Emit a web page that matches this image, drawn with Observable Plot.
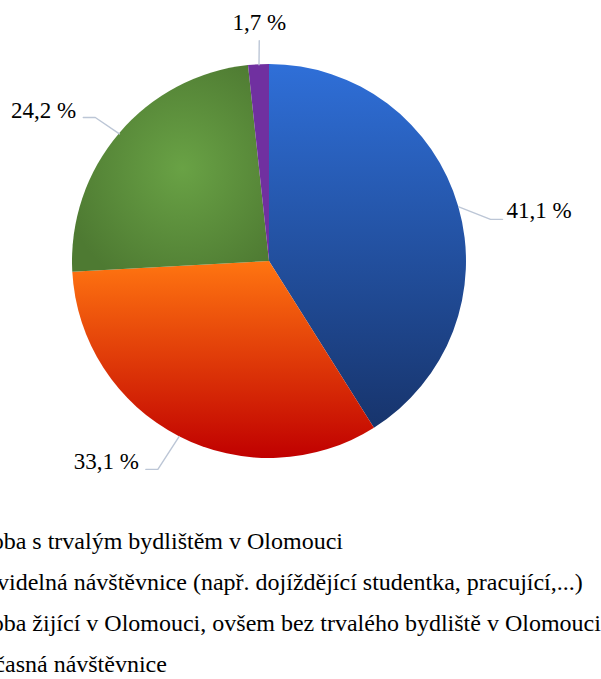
<!DOCTYPE html>
<html>
<head>
<meta charset="utf-8">
<script src="https://cdn.jsdelivr.net/npm/d3@7"></script>
<script src="https://cdn.jsdelivr.net/npm/@observablehq/plot@0.6"></script>
</head>
<body style="margin:0;overflow:hidden;background:#fff">
<div style="font-family:'Liberation Serif';font-size:23px;position:absolute;left:0;top:0;visibility:hidden">41,1 % Osoba</div>
<div id="chart" style="width:601px;height:679px;overflow:hidden;position:relative"></div>
<script>
// ---- data ----
const categories = [
  "Osoba s trvalým bydlištěm v Olomouci",
  "Pravidelná návštěvnice (např. dojíždějící studentka, pracující,...)",
  "Osoba žijící v Olomouci, ovšem bez trvalého bydliště v Olomouci",
  "Občasná návštěvnice"
];
const values = [41.1, 33.1, 24.2, 1.7];
const valueLabels = ["41,1 %", "33,1 %", "24,2 %", "1,7 %"];

// ---- layout / style (not data) ----
const W = 601, H = 521;
const cx = 269, cy = 261, R = 197;
const FONT = "Liberation Serif";
const labelLayout = [
  {da: 5.3, r: 225, side: "right"},
  {da: 0.9, r: 236, side: "left"},
  {da: -0.8, r: 226, side: "left"},
  {da: 0.4, r: 221, side: "top"}
];
const gradients = [
  {type: "linear", stops: [["0%", "#2F6FD8"], ["100%", "#17346C"]]},
  {type: "linear", stops: [["0%", "#FF7511"], ["100%", "#C00000"]]},
  {type: "radial", stops: [["0%", "#69A245"], ["100%", "#4E7A32"]]},
  {type: "linear", stops: [["0%", "#7030A0"], ["100%", "#7030A0"]]}
];

const arcs = d3.pie().sort(null).value(d => d)(values);
const deg = Math.PI / 180;
const polar = (a, r) => [cx + r * Math.sin(a), cy - r * Math.cos(a)];

const leaderPts = [];
const labelRows = [];
arcs.forEach((a, i) => {
  const mid = (a.startAngle + a.endAngle) / 2;
  const L = labelLayout[i];
  const edge = polar(mid, R);
  const elbow = polar(mid + L.da * deg, L.r);
  const pts = [edge, elbow];
  let tx, ty, anchor;
  if (L.side === "right") {
    const end = [elbow[0] + 12, elbow[1]];
    pts.push(end);
    tx = end[0] + 4; ty = elbow[1] - 1; anchor = "start";
  } else if (L.side === "left") {
    const end = [elbow[0] - 12, elbow[1]];
    pts.push(end);
    tx = end[0] - 7; ty = elbow[1]; anchor = "end";
  } else {
    tx = elbow[0]; ty = elbow[1] - 11; anchor = "middle";
  }
  pts.forEach(p => leaderPts.push({i, x: p[0], y: p[1]}));
  labelRows.push({x: tx, y: ty, text: valueLabels[i], anchor});
});

function pieMark(index, scales) {
  const sx = scales.x || (v => v), sy = scales.y || (v => v);
  const g = d3.create("svg:g");
  const defs = g.append("defs");
  gradients.forEach((gr, i) => {
    const el = gr.type === "linear"
      ? defs.append("linearGradient").attr("x1", 0).attr("y1", 0).attr("x2", 0).attr("y2", 1)
      : defs.append("radialGradient").attr("cx", 0.56).attr("cy", 0.5).attr("r", 0.62);
    el.attr("id", "slice-grad-" + i);
    gr.stops.forEach(([o, c]) => el.append("stop").attr("offset", o).attr("stop-color", c));
  });
  const arcGen = d3.arc().innerRadius(0).outerRadius(R);
  g.append("g")
    .attr("transform", `translate(${sx(cx)},${sy(cy)})`)
    .selectAll("path")
    .data(arcs)
    .join("path")
    .attr("d", arcGen)
    .attr("fill", (d, i) => `url(#slice-grad-${i})`);
  return g.node();
}

const anchors = ["start", "middle", "end"];
const textMarks = anchors.map(an => Plot.text(labelRows.filter(d => d.anchor === an), {
  x: "x", y: "y", text: "text", textAnchor: an, lineAnchor: "bottom",
  fontFamily: FONT, fontSize: 23, fill: "#000"
}));

const chart = Plot.plot({
  width: W,
  height: H,
  margin: 0,
  x: {type: "identity", axis: null},
  y: {type: "identity", axis: null},
  marks: [
    pieMark,
    Plot.line(leaderPts, {x: "x", y: "y", z: "i", stroke: "#BCC6D6", strokeWidth: 1.4, curve: "linear"}),
    ...textMarks
  ]
});
const root = document.getElementById("chart");
root.appendChild(chart);
const legend = d3.select(root).append("div");
legend.selectAll("div").data(categories).join("div")
  .style("white-space", "nowrap")
  .style("margin-left", "-35px")
  .style("font-family", "'Liberation Serif'")
  .style("font-size", "24px")
  .style("line-height", "41px")
  .style("height", "41px")
  .style("color", "#000")
  .text(d => d);
</script>
</body>
</html>
